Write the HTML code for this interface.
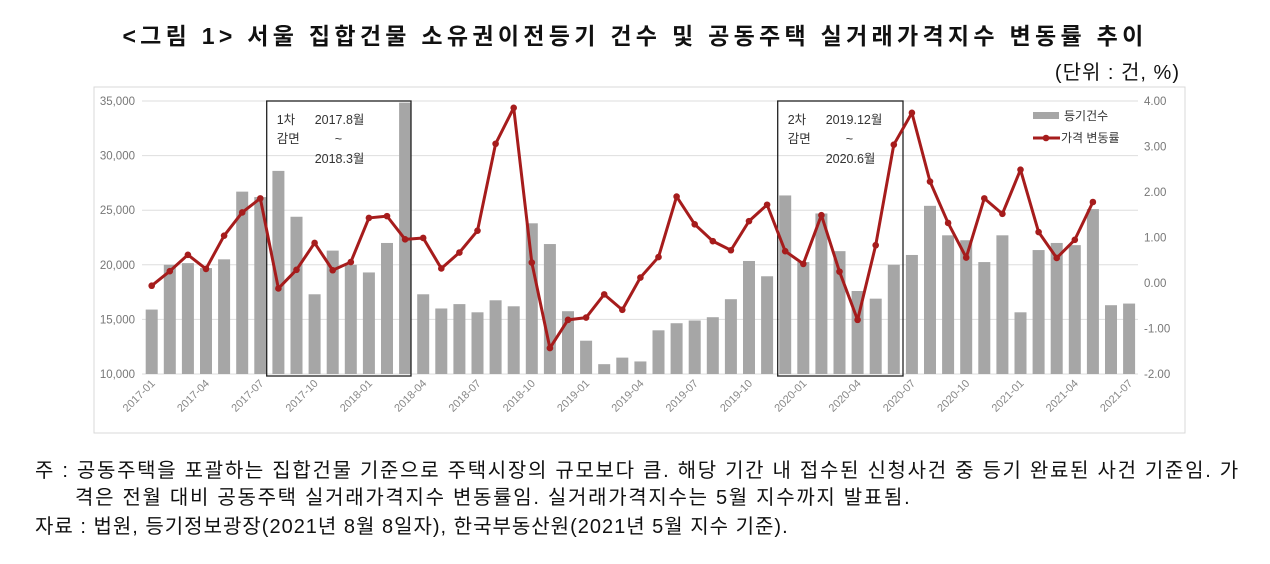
<!DOCTYPE html>
<html><head><meta charset="utf-8">
<style>
body{margin:0;background:#fff;width:1270px;height:564px;overflow:hidden;font-family:"Liberation Sans","Noto Sans CJK KR",sans-serif;}
.t{position:absolute;white-space:nowrap;color:#111;}
</style></head><body>
<div class="t" style="left:0;width:1270px;text-align:center;top:17px;font-size:23px;font-weight:bold;letter-spacing:4.3px;">&lt;그림 1&gt; 서울 집합건물 소유권이전등기 건수 및 공동주택 실거래가격지수 변동률 추이</div>
<div class="t" style="right:90px;top:56px;font-size:20px;letter-spacing:1px;">(단위 : 건, %)</div>
<svg width="1270" height="564" style="position:absolute;left:0;top:0">
<rect x="94" y="87" width="1091" height="346" fill="none" stroke="#d9d9d9"/>
<g id="grid"></g><g id="bars"></g><g id="boxes"></g><g id="line"></g><g id="axes" font-family="Liberation Sans, Noto Sans CJK KR, sans-serif"></g>
</svg>
<div class="t" style="left:35px;top:454px;font-size:20px;letter-spacing:1.7px;">주 : 공동주택을 포괄하는 집합건물 기준으로 주택시장의 규모보다 큼. 해당 기간 내 접수된 신청사건 중 등기 완료된 사건 기준임. 가</div>
<div class="t" style="left:75px;top:481px;font-size:20px;letter-spacing:1.7px;">격은 전월 대비 공동주택 실거래가격지수 변동률임. 실거래가격지수는 5월 지수까지 발표됨.</div>
<div class="t" style="left:35px;top:510px;font-size:20px;letter-spacing:1px;">자료 : 법원, 등기정보광장(2021년 8월 8일자), 한국부동산원(2021년 5월 지수 기준).</div>
<script>
const months=[];for(let y=2017;y<=2021;y++)for(let m=1;m<=12;m++){if(y===2021&&m>7)break;months.push(y+'-'+String(m).padStart(2,'0'));}
const counts=[15900,20000,20150,19700,20500,26700,26200,28600,24400,17300,21300,20000,19300,22000,34850,17300,16000,16400,15650,16750,16200,23800,21900,15750,13050,10900,11500,11150,14000,14650,14900,15200,16850,20350,18950,26350,20250,24700,21250,17600,16900,20000,20900,25400,22700,22250,20250,22700,15650,21350,22000,21800,25100,16300,16450];
const rates=[-0.06,0.26,0.62,0.31,1.04,1.55,1.86,-0.12,0.29,0.88,0.28,0.46,1.43,1.47,0.96,0.99,0.32,0.67,1.15,3.06,3.85,0.45,-1.43,-0.81,-0.76,-0.25,-0.59,0.12,0.57,1.90,1.29,0.92,0.72,1.36,1.72,0.70,0.42,1.49,0.25,-0.81,0.83,3.04,3.74,2.23,1.32,0.56,1.86,1.52,2.49,1.12,0.55,0.95,1.78];
const leftTicks=[10000,15000,20000,25000,30000,35000];
const rightTicks=[-2,-1,0,1,2,3,4];
const NS='http://www.w3.org/2000/svg';
const top0=101,bot0=374,x0=151.7,step=18.1;
const yL=v=>bot0-(v-10000)/25000*(bot0-top0);
const yR=v=>bot0-(v+2)/6*(bot0-top0);
const xM=i=>x0+i*step;
function mk(t,a,p){const e=document.createElementNS(NS,t);for(const k in a)e.setAttribute(k,a[k]);p.appendChild(e);return e;}
const G=id=>document.getElementById(id);
leftTicks.forEach((v,i)=>{const l=mk('line',{x1:142,x2:1138,y1:yL(v),y2:yL(v),stroke:'#dedede'},G('grid'));


const t=mk('text',{x:135,y:yL(v)+4,'text-anchor':'end','font-size':11.5,fill:'#777'},G('axes'));t.textContent=v.toLocaleString('en-US');

});
rightTicks.forEach(v=>{const t=mk('text',{x:1144,y:yR(v)+4,'font-size':11.5,fill:'#777'},G('axes'));t.textContent=v.toFixed(2);

});
counts.forEach((v,i)=>{const r=mk('rect',{x:xM(i)-6,y:yL(v),width:12,height:bot0-yL(v),fill:'#a6a6a6'},G('bars'));

});
months.forEach((m,i)=>{if(i%3)return;const t=mk('text',{x:xM(i)+4,y:bot0+10,'text-anchor':'end','font-size':11,fill:'#888',transform:`rotate(-45 ${xM(i)+4} ${bot0+10})`},G('axes'));t.textContent=m;

});
const pts=rates.map((v,i)=>xM(i)+','+yR(v)).join(' ');
const pl=mk('polyline',{points:pts,fill:'none',stroke:'#a61c1c','stroke-width':3,'stroke-linejoin':'round'},G('line'));


rates.forEach((v,i)=>{const c=mk('circle',{cx:xM(i),cy:yR(v),r:3.3,fill:'#a61c1c'},G('line'));

});
function box(x1,x2,a,b,c,nm){const g=mk('g',{},G('boxes'));
mk('rect',{x:x1,y:101,width:x2-x1,height:275,fill:'none',stroke:'#222','stroke-width':1.3},g);
const s={'font-size':12.5,fill:'#333','font-family':'Liberation Sans, Noto Sans CJK KR, sans-serif'};
[[x1+10,124,a],[x1+10,143,'감면'],[x1+48,124,b],[x1+68,143,'~'],[x1+48,163,c]].forEach(q=>{const t=mk('text',Object.assign({x:q[0],y:q[1]},s),g);t.textContent=q[2];});}
box(266.7,411,'1차','2017.8월','2018.3월','box-first-cut');
box(777.7,903,'2차','2019.12월','2020.6월','box-second-cut');
const lg=mk('g',{},G('axes'));
mk('rect',{x:1033,y:112,width:26,height:7,fill:'#a6a6a6'},lg);
let t=mk('text',{x:1064,y:120,'font-size':12,fill:'#333'},lg);t.textContent='등기건수';
mk('line',{x1:1033,x2:1060,y1:138,y2:138,stroke:'#a61c1c','stroke-width':3},lg);
mk('circle',{cx:1046,cy:138,r:3.3,fill:'#a61c1c'},lg);
t=mk('text',{x:1061,y:142,'font-size':12,fill:'#333'},lg);t.textContent='가격 변동률';
</script>
</body></html>
